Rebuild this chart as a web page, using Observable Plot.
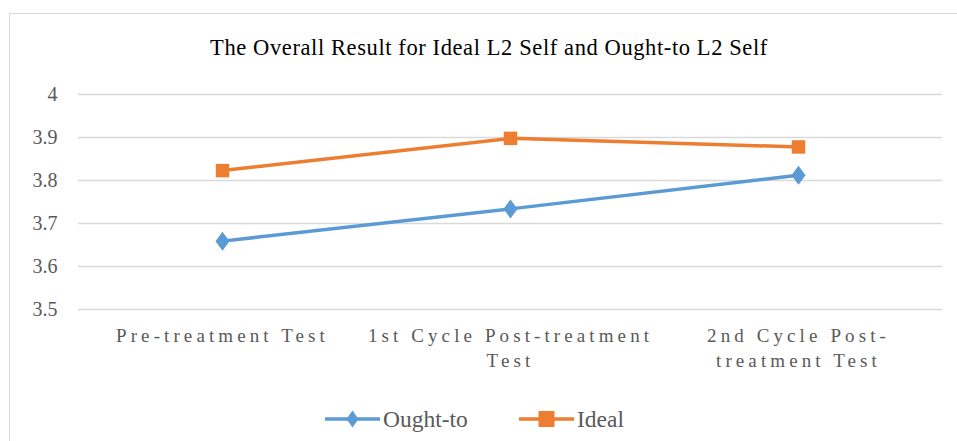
<!DOCTYPE html>
<html>
<head>
<meta charset="utf-8">
<script src="https://cdn.jsdelivr.net/npm/d3@7"></script>
<script src="https://cdn.jsdelivr.net/npm/@observablehq/plot@0.6"></script>
<style>
  html, body { margin: 0; padding: 0; background: #fff; }
  #wrap { position: relative; width: 957px; height: 441px; overflow: hidden; font-family: 'Liberation Serif', serif; }
  #frame { position: absolute; left: 9px; top: 13px; width: 960px; height: 440px; border-left: 1.5px solid #d9d9d9; border-top: 1.5px solid #d9d9d9; box-sizing: border-box; }
  #title { position: absolute; left: 0; width: 978px; top: 35px; text-align: center; font-size: 22.5px; letter-spacing: 0.6px; color: #000; font-family: 'Liberation Serif', serif; }
  #chart { position: absolute; left: 0; top: 0; }
  #legend { position: absolute; top: 404px; left: 0; width: 957px; height: 30px; }
  svg text { font-family: 'Liberation Serif', serif; }
</style>
</head>
<body>
<div id="wrap">
  <div id="frame"></div>
  <div id="chart"></div>
  <div id="title">The Overall Result for Ideal L2 Self and Ought-to L2 Self</div>
  <svg id="legend" width="957" height="30"></svg>
</div>
<script>
const categories = ["Pre-treatment Test", "1st Cycle Post-treatment Test", "2nd Cycle Post-treatment Test"];
const categoryLabels = ["Pre-treatment Test", "1st Cycle Post-treatment\nTest", "2nd Cycle Post-\ntreatment Test"];
const seriesNames = ["Ought-to", "Ideal"];
const oughtTo = [3.659, 3.734, 3.812];
const ideal = [3.823, 3.898, 3.878];
const yTicks = [3.5, 3.6, 3.7, 3.8, 3.9, 4];
const colors = ["#5B9BD5", "#ED7D31"];

const rows = [];
categories.forEach((c, i) => {
  rows.push({category: c, series: "Ought-to", value: oughtTo[i]});
  rows.push({category: c, series: "Ideal", value: ideal[i]});
});
const labelOf = new Map(categories.map((c, i) => [c, categoryLabels[i]]));
const serif = "'Liberation Serif', serif";

// tall diamond like the spreadsheet marker (about 13 wide, 18 tall)
function tallDiamond(hw, hh) {
  return {
    draw(context, size) {
      const k = Math.sqrt(size / (Math.PI * 64));
      context.moveTo(0, -hh * k);
      context.lineTo(hw * k, 0);
      context.lineTo(0, hh * k);
      context.lineTo(-hw * k, 0);
      context.closePath();
    }
  };
}

const plot = Plot.plot({
  width: 957,
  height: 441,
  marginTop: 94,
  marginBottom: 132,
  marginLeft: 78,
  marginRight: 15,
  style: {background: "transparent"},
  x: {type: "band", domain: categories, padding: 0, axis: null},
  y: {domain: [3.5, 4], axis: null},
  color: {domain: seriesNames, range: colors},
  marks: [
    Plot.ruleY(yTicks, {stroke: "#d9d9d9", strokeWidth: 1.3}),
    Plot.text(yTicks, {y: d => d, frameAnchor: "left", dx: -21, textAnchor: "end", text: d => String(d), fontSize: 20, fontFamily: serif, fill: "#595959"}),
    Plot.text(categories, {x: d => d, frameAnchor: "bottom", lineAnchor: "top", dy: 15, text: d => labelOf.get(d), fontSize: 19, fontFamily: serif, lineHeight: 1.3, fill: "#595959"}),
    Plot.line(rows, {x: "category", y: "value", z: "series", stroke: "series", strokeWidth: 3.5}),
    Plot.dot(rows.filter(d => d.series === "Ought-to"), {x: "category", y: "value", symbol: tallDiamond(7, 9.5), r: 8, fill: colors[0], stroke: "none"}),
    Plot.dot(rows.filter(d => d.series === "Ideal"), {x: "category", y: "value", symbol: "square", r: 7.6, fill: colors[1], stroke: "none"})
  ]
});
// letter-spaced category labels
plot.querySelectorAll("text").forEach(t => {
  if (/Test|treatment/.test(t.textContent)) t.style.letterSpacing = "4.1px";
});
document.getElementById("chart").appendChild(plot);

// legend
const lg = d3.select("#legend");
const items = [
  {name: seriesNames[0], color: colors[0], x: 325, path: "M0,-8.5L6,0L0,8.5L-6,0Z"},
  {name: seriesNames[1], color: colors[1], x: 519, path: "M-8,-8H8V8H-8Z"}
];
items.forEach(it => {
  const g = lg.append("g");
  g.append("line").attr("x1", it.x).attr("x2", it.x + 55).attr("y1", 15).attr("y2", 15)
    .attr("stroke", it.color).attr("stroke-width", 3.5);
  g.append("path").attr("d", it.path).attr("transform", `translate(${it.x + 27.5},15)`).attr("fill", it.color);
  g.append("text").attr("x", it.x + 58).attr("y", 23).attr("font-size", 23.5).attr("fill", "#595959")
    .style("font-family", serif).text(it.name);
});
</script>
</body>
</html>
